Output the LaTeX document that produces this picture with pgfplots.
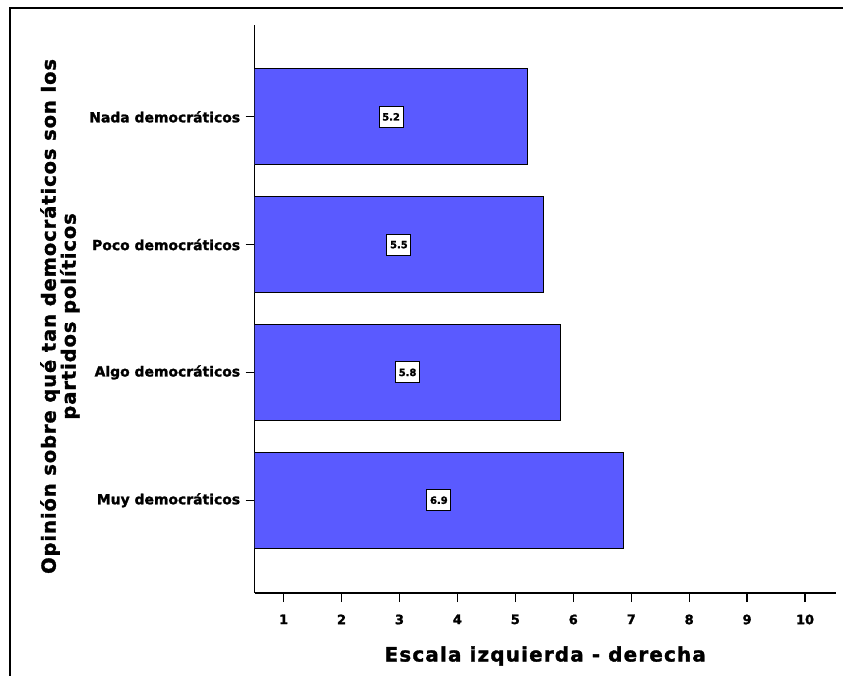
\documentclass[border=0pt]{standalone}
\usepackage{pgfplots}
\pgfplotsset{compat=1.18}
\usepackage{fontspec}
\setmainfont{DejaVu Sans}[BoldFeatures={FakeBold=1.6}]
\definecolor{barblue}{RGB}{90,90,255}
\begin{document}
\begin{tikzpicture}
\path[fill=white] (0bp,0bp) rectangle (844bp,677bp);
\draw[line width=2.5bp] (10bp,0bp) -- (10bp,669bp) -- (844bp,669bp);
\begin{axis}[
  at={(255bp,83bp)}, anchor=south west,
  scale only axis, width=582bp, height=569bp,
  xmin=0.5, xmax=10.53, ymin=0.273, ymax=4.719,
  axis x line*=bottom, axis y line*=left,
  axis line style={line width=1.3bp},
  xtick={1,...,10}, ytick={1,2,3,4},
  yticklabels={Muy democráticos, Algo democráticos, Poco democráticos, Nada democráticos},
  tick align=outside, major tick length=9bp,
  tick style={black, line width=1.3bp},
  /pgf/number format/assume math mode=true,
  yticklabel style={font=\bfseries\fontsize{14}{16}\selectfont, xshift=-2bp},
  xticklabel style={font=\bfseries\fontsize{13}{16}\selectfont, yshift=-9bp},
  xlabel={Escala izquierda - derecha},
  xlabel style={font=\bfseries\fontsize{20}{22}\selectfont\addfontfeature{LetterSpace=6}, at={(axis description cs:0.5,-0.1107)}, anchor=center},
  ylabel={Opinión sobre qué tan democráticos son los\\partidos políticos},
  ylabel style={font=\bfseries\fontsize{19.5}{20}\selectfont\addfontfeature{LetterSpace=5}, align=center, at={(axis description cs:-0.335,0.487)}, anchor=center},
  nodes near coords style={fill=white, draw=black, line width=1bp, inner sep=1.5bp, minimum width=24bp, minimum height=21bp, anchor=center, font=\bfseries\fontsize{10}{12}\selectfont, text=black},
]
\addplot[xbar, bar width=0.75, fill=barblue, draw=black, line width=1bp]
  coordinates {(6.86,1) (5.78,2) (5.48,3) (5.21,4)};
\addplot[draw=none, mark=none, nodes near coords, point meta=explicit symbolic]
  coordinates {(3.68,1) [6.9] (3.14,2) [5.8] (2.99,3) [5.5] (2.855,4) [5.2]};
\end{axis}
\end{tikzpicture}
\end{document}
